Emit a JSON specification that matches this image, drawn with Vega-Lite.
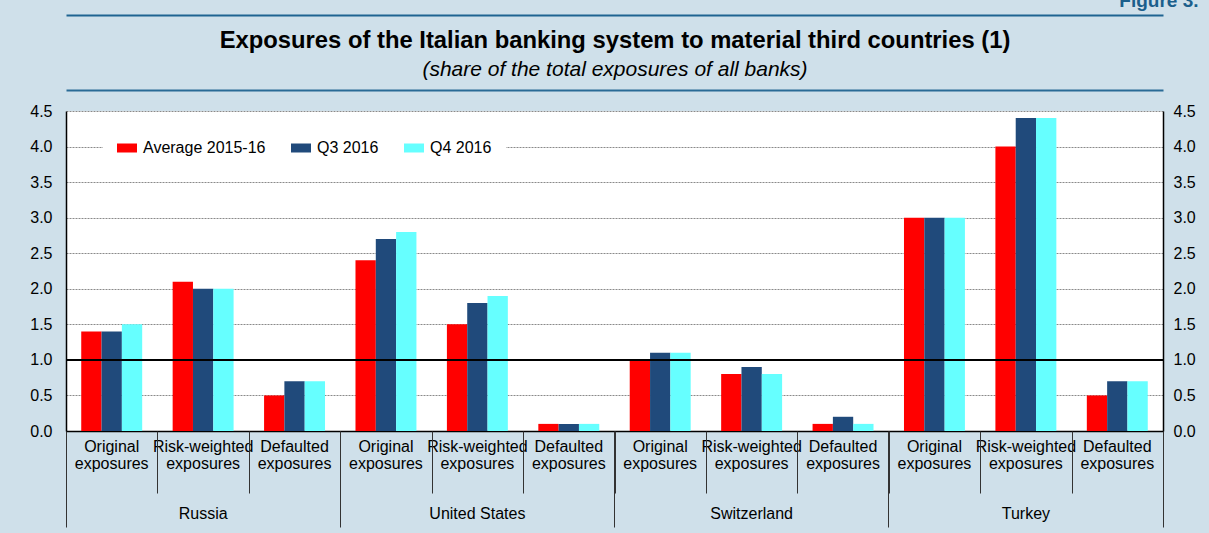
{
  "$schema": "https://vega.github.io/schema/vega-lite/v6.json",
  "width": 1097,
  "height": 320,
  "autosize": "none",
  "padding": {"left": 66, "top": 111, "right": 46, "bottom": 102},
  "background": "#cfe0ea",
  "config": {
    "font": "Liberation Sans",
    "view": {"fill": "white", "stroke": null}
  },
  "data": {
    "values": [
      {"category": "Russia|Original|exposures", "series": "Average 2015-16", "value": 1.4},
      {"category": "Russia|Original|exposures", "series": "Q3 2016", "value": 1.4},
      {"category": "Russia|Original|exposures", "series": "Q4 2016", "value": 1.5},
      {"category": "Russia|Risk-weighted|exposures", "series": "Average 2015-16", "value": 2.1},
      {"category": "Russia|Risk-weighted|exposures", "series": "Q3 2016", "value": 2.0},
      {"category": "Russia|Risk-weighted|exposures", "series": "Q4 2016", "value": 2.0},
      {"category": "Russia|Defaulted|exposures", "series": "Average 2015-16", "value": 0.5},
      {"category": "Russia|Defaulted|exposures", "series": "Q3 2016", "value": 0.7},
      {"category": "Russia|Defaulted|exposures", "series": "Q4 2016", "value": 0.7},
      {"category": "United States|Original|exposures", "series": "Average 2015-16", "value": 2.4},
      {"category": "United States|Original|exposures", "series": "Q3 2016", "value": 2.7},
      {"category": "United States|Original|exposures", "series": "Q4 2016", "value": 2.8},
      {"category": "United States|Risk-weighted|exposures", "series": "Average 2015-16", "value": 1.5},
      {"category": "United States|Risk-weighted|exposures", "series": "Q3 2016", "value": 1.8},
      {"category": "United States|Risk-weighted|exposures", "series": "Q4 2016", "value": 1.9},
      {"category": "United States|Defaulted|exposures", "series": "Average 2015-16", "value": 0.1},
      {"category": "United States|Defaulted|exposures", "series": "Q3 2016", "value": 0.1},
      {"category": "United States|Defaulted|exposures", "series": "Q4 2016", "value": 0.1},
      {"category": "Switzerland|Original|exposures", "series": "Average 2015-16", "value": 1.0},
      {"category": "Switzerland|Original|exposures", "series": "Q3 2016", "value": 1.1},
      {"category": "Switzerland|Original|exposures", "series": "Q4 2016", "value": 1.1},
      {"category": "Switzerland|Risk-weighted|exposures", "series": "Average 2015-16", "value": 0.8},
      {"category": "Switzerland|Risk-weighted|exposures", "series": "Q3 2016", "value": 0.9},
      {"category": "Switzerland|Risk-weighted|exposures", "series": "Q4 2016", "value": 0.8},
      {"category": "Switzerland|Defaulted|exposures", "series": "Average 2015-16", "value": 0.1},
      {"category": "Switzerland|Defaulted|exposures", "series": "Q3 2016", "value": 0.2},
      {"category": "Switzerland|Defaulted|exposures", "series": "Q4 2016", "value": 0.1},
      {"category": "Turkey|Original|exposures", "series": "Average 2015-16", "value": 3.0},
      {"category": "Turkey|Original|exposures", "series": "Q3 2016", "value": 3.0},
      {"category": "Turkey|Original|exposures", "series": "Q4 2016", "value": 3.0},
      {"category": "Turkey|Risk-weighted|exposures", "series": "Average 2015-16", "value": 4.0},
      {"category": "Turkey|Risk-weighted|exposures", "series": "Q3 2016", "value": 4.4},
      {"category": "Turkey|Risk-weighted|exposures", "series": "Q4 2016", "value": 4.4},
      {"category": "Turkey|Defaulted|exposures", "series": "Average 2015-16", "value": 0.5},
      {"category": "Turkey|Defaulted|exposures", "series": "Q3 2016", "value": 0.7},
      {"category": "Turkey|Defaulted|exposures", "series": "Q4 2016", "value": 0.7}
    ]
  },
  "resolve": {"axis": {"x": "independent", "y": "independent"}},
  "layer": [
    {
      "mark": {"type": "bar"},
      "encoding": {
        "x": {
          "field": "category", "type": "nominal", "sort": null,
          "scale": {"paddingInner": 0, "paddingOuter": 0},
          "axis": {
            "orient": "bottom", "labelAngle": 0, "ticks": false,
            "domain": true, "domainColor": "black", "domainWidth": 1.5,
            "labelFontSize": 16, "labelColor": "black", "labelPadding": 7,
            "labelLineHeight": 17, "labelLimit": 200, "labelBaseline": "top",
            "labelExpr": "[split(datum.label, '|')[1], split(datum.label, '|')[2]]",
            "title": "Exposures of the Italian banking system to material third countries (1)",
            "titleFontSize": 23.8, "titleFontWeight": "bold", "titleColor": "black",
            "titleX": 548.5, "titleY": -383.5, "titleAlign": "center", "titleBaseline": "alphabetic", "titleAngle": 0
          }
        },
        "xOffset": {
          "field": "series", "type": "nominal", "sort": null,
          "scale": {"paddingInner": 0, "paddingOuter": 0.75}
        },
        "y": {
          "field": "value", "type": "quantitative",
          "scale": {"domain": [0, 4.5], "nice": false, "zero": true},
          "axis": {
            "orient": "left", "values": [0, 0.5, 1, 1.5, 2, 2.5, 3, 3.5, 4, 4.5],
            "format": ".1f", "ticks": false, "labelPadding": 14, "labelFontSize": 16,
            "labelColor": "black", "domain": true, "domainColor": "black", "domainWidth": 1.5,
            "grid": true, "gridColor": "#8a8a8a", "gridDash": [2, 1], "gridWidth": 1,
            "title": "(share of the total exposures of all banks)",
            "titleFontSize": 21, "titleFontWeight": "normal", "titleFontStyle": "italic", "titleColor": "black",
            "titleAngle": 0, "titleX": 548.5, "titleY": -36, "titleAlign": "center", "titleBaseline": "alphabetic"
          }
        },
        "color": {
          "field": "series", "type": "nominal",
          "scale": {"domain": ["Average 2015-16", "Q3 2016", "Q4 2016"], "range": ["#ff0000", "#204a7b", "#66ffff"]},
          "legend": {
            "orient": "none", "legendX": 37, "legendY": 13, "direction": "horizontal",
            "fillColor": "white", "padding": 14, "title": null,
            "labelFontSize": 16, "labelColor": "black", "labelOffset": 6, "columnPadding": 25,
            "symbolType": "M-1,-0.45H1V0.45H-1Z", "symbolSize": 400, "symbolStrokeWidth": 0, "symbolOpacity": 1
          }
        }
      }
    },
    {
      "mark": {"type": "rule", "color": "black", "strokeWidth": 2},
      "encoding": {"y": {"datum": 1, "type": "quantitative", "axis": null}}
    },
    {
      "mark": {"type": "bar", "opacity": 0},
      "encoding": {
        "x": {
          "field": "category", "type": "nominal", "sort": null,
          "axis": {
            "orient": "bottom", "title": null, "labels": false, "domain": false, "grid": false,
            "ticks": true, "tickBand": "extent", "tickSize": 62, "tickColor": "#333333", "tickWidth": 1
          }
        },
        "y": {
          "field": "value", "type": "quantitative",
          "axis": {
            "orient": "right", "values": [0, 0.5, 1, 1.5, 2, 2.5, 3, 3.5, 4, 4.5],
            "format": ".1f", "ticks": false, "labelPadding": 10, "labelFontSize": 16,
            "labelColor": "black", "domain": true, "domainColor": "black", "domainWidth": 1.5, "grid": false,
            "title": "Figure 3.", "titleFontSize": 19, "titleFontWeight": "bold", "titleColor": "#1b5f8c",
            "titleAngle": 0, "titleX": 35, "titleY": -105, "titleAlign": "right", "titleBaseline": "alphabetic"
          }
        }
      }
    },
    {
      "mark": {"type": "bar", "opacity": 0},
      "encoding": {
        "x": {
          "field": "category", "type": "nominal", "sort": null,
          "axis": {
            "orient": "bottom", "title": null, "labels": false, "domain": false, "grid": false,
            "values": ["Russia|Original|exposures", "United States|Original|exposures", "Switzerland|Original|exposures", "Turkey|Original|exposures"],
            "bandPosition": 0, "ticks": true, "tickSize": 96, "tickColor": "#333333", "tickWidth": 1
          }
        },
        "y": {"field": "value", "type": "quantitative", "axis": null}
      }
    },
    {
      "mark": {"type": "bar", "opacity": 0},
      "encoding": {
        "x": {
          "field": "category", "type": "nominal", "sort": null,
          "axis": {
            "orient": "bottom", "title": null, "labels": false, "domain": false, "grid": false,
            "values": ["Turkey|Defaulted|exposures"],
            "bandPosition": 1, "ticks": true, "tickSize": 96, "tickColor": "#333333", "tickWidth": 1
          }
        },
        "y": {"field": "value", "type": "quantitative", "axis": null}
      }
    },
    {
      "mark": {"type": "bar", "opacity": 0},
      "encoding": {
        "x": {
          "field": "category", "type": "nominal", "sort": null,
          "axis": {
            "orient": "bottom", "title": null, "labels": true, "ticks": false, "domain": false, "grid": false,
            "values": ["Russia|Risk-weighted|exposures", "United States|Risk-weighted|exposures", "Switzerland|Risk-weighted|exposures", "Turkey|Risk-weighted|exposures"],
            "labelExpr": "split(datum.label, '|')[0]", "labelAngle": 0, "labelBaseline": "top",
            "labelFontSize": 16, "labelColor": "black", "labelPadding": 74, "labelLimit": 200
          }
        },
        "y": {"field": "value", "type": "quantitative", "axis": null}
      }
    },
    {
      "mark": {"type": "bar", "opacity": 0},
      "encoding": {
        "x": {
          "field": "category", "type": "nominal", "sort": null,
          "axis": {
            "orient": "top", "title": null, "labels": false, "ticks": false, "grid": false,
            "domain": true, "domainColor": "#2a6b96", "domainWidth": 2, "offset": 21
          }
        },
        "y": {"field": "value", "type": "quantitative", "axis": null}
      }
    },
    {
      "mark": {"type": "bar", "opacity": 0},
      "encoding": {
        "x": {
          "field": "category", "type": "nominal", "sort": null,
          "axis": {
            "orient": "top", "title": null, "labels": false, "ticks": false, "grid": false,
            "domain": true, "domainColor": "#1f6491", "domainWidth": 2, "offset": 96
          }
        },
        "y": {"field": "value", "type": "quantitative", "axis": null}
      }
    }
  ]
}
